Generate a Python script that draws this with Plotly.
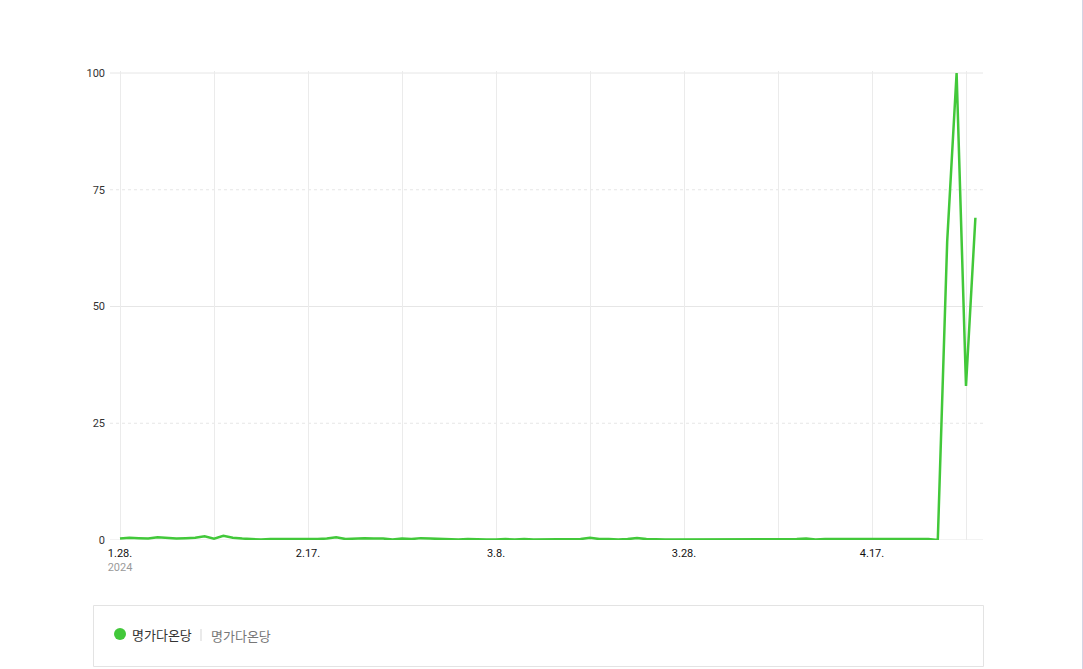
import pandas as pd
import plotly.graph_objects as go

# 검색량 데이터 (일별, 2024.1.28 ~ 4.28)
start_date = "2024-01-28"
values = [
    0.3, 0.5, 0.4, 0.3, 0.6, 0.5, 0.3, 0.4, 0.5, 0.8,
    0.3, 0.9, 0.5, 0.3, 0.2, 0.1, 0.2, 0.2, 0.2, 0.1,
    0.2, 0.2, 0.3, 0.6, 0.2, 0.3, 0.4, 0.3, 0.3, 0.1,
    0.3, 0.2, 0.4, 0.3, 0.2, 0.1, 0.1, 0.2, 0.1, 0.1,
    0.1, 0.2, 0.1, 0.2, 0.1, 0.1, 0.2, 0.1, 0.1, 0.2,
    0.5, 0.2, 0.2, 0.1, 0.2, 0.4, 0.2, 0.1, 0.1, 0.1,
    0.1, 0.1, 0.1, 0.1, 0.1, 0.1, 0.1, 0.2, 0.1, 0.1,
    0.2, 0.1, 0.2, 0.3, 0.1, 0.2, 0.2, 0.1, 0.1, 0.1,
    0.1, 0.1, 0.1, 0.1, 0.1, 0.1, 0.2, 0.0, 64, 100,
    33, 69,
]
series_name = "명가다온당"
keyword = "명가다온당"
y_ticks = [0, 25, 50, 75, 100]

dates = pd.date_range(start_date, periods=len(values), freq="D")

# x 눈금: 10일 간격 격자, 20일 간격 라벨
grid_dates = pd.date_range(start_date, periods=10, freq="10D")
tick_text = []
for i, d in enumerate(grid_dates):
    if i % 2:
        tick_text.append("")
    elif i == 0:
        tick_text.append(f"{d.month}.{d.day}.<br><span style='color:#9a9a9a'>{d.year}</span>")
    else:
        tick_text.append(f"{d.month}.{d.day}.")

GREEN = "#42c83a"
W, H = 1083, 669
L, R, T, B = 110, 983, 71, 540   # 플롯 영역 픽셀


def px(x):
    return (x - L) / (R - L)


def py(y):
    return (B - y) / (B - T)


fig = go.Figure()
fig.add_trace(go.Scatter(
    x=dates, y=values, mode="lines", name=series_name,
    line=dict(color=GREEN, width=2.5), cliponaxis=False,
    hoverinfo="x+y",
))

t0 = pd.Timestamp(start_date)
px_per_day = 9.4
x_range = [t0 - pd.Timedelta(days=10 / px_per_day), t0 + pd.Timedelta(days=(R - 120) / px_per_day)]

shapes = []
for v in y_ticks:
    shapes.append(dict(
        type="line", xref="paper", yref="y", x0=0, x1=1, y0=v, y1=v,
        line=dict(color="#e6e6e6", width=1, dash="solid" if v % 50 == 0 else "dot"),
        layer="below",
    ))

# 범례 상자
shapes.append(dict(type="rect", xref="paper", yref="paper",
                   x0=px(93.5), x1=px(983.5), y0=py(605.5), y1=py(666.5),
                   line=dict(color="#e3e3e3", width=1), fillcolor="white"))
shapes.append(dict(type="circle", xref="paper", yref="paper",
                   x0=px(114), x1=px(126), y0=py(628), y1=py(640),
                   line=dict(color=GREEN, width=0), fillcolor=GREEN))
shapes.append(dict(type="line", xref="paper", yref="paper",
                   x0=px(201), x1=px(201), y0=py(629), y1=py(641),
                   line=dict(color="#d5d5d5", width=1)))
# 오른쪽 테두리
shapes.append(dict(type="line", xref="paper", yref="paper",
                   x0=px(1082.5), x1=px(1082.5), y0=py(0), y1=py(669),
                   line=dict(color="#d4d4e4", width=1)))

annotations = [
    dict(x=px(130), y=py(634), xref="paper", yref="paper", text=series_name,
         showarrow=False, xanchor="left", yanchor="middle",
         font=dict(size=13, color="#333333", family="Noto Sans CJK KR")),
    dict(x=px(209), y=py(635), xref="paper", yref="paper", text=keyword,
         showarrow=False, xanchor="left", yanchor="middle",
         font=dict(size=13, color="#777777", family="Noto Sans CJK KR")),
]

fig.update_layout(
    width=W, height=H, autosize=False,
    margin=dict(l=L, r=W - R, t=T, b=H - B, pad=0),
    plot_bgcolor="white", paper_bgcolor="white",
    showlegend=False,
    shapes=shapes, annotations=annotations,
    font=dict(family="Roboto, Noto Sans CJK KR, sans-serif", size=11, color="#333"),
    xaxis=dict(
        range=x_range, tickmode="array", tickvals=grid_dates, ticktext=tick_text,
        showgrid=True, gridcolor="#ebebeb", gridwidth=1, zeroline=False,
        showline=False, ticks="", ticklabelstandoff=5,
        tickfont=dict(size=11, color="#111"),
    ),
    yaxis=dict(
        range=[0, 100 + 2 / 4.67], tickmode="array", tickvals=y_ticks,
        showgrid=False, zeroline=False, showline=False, ticks="",
        ticklabelstandoff=4, tickfont=dict(size=11, color="#333"),
    ),
)

fig.write_html("out.html", config={"displayModeBar": False},
               post_script="document.body.style.margin='0';")
